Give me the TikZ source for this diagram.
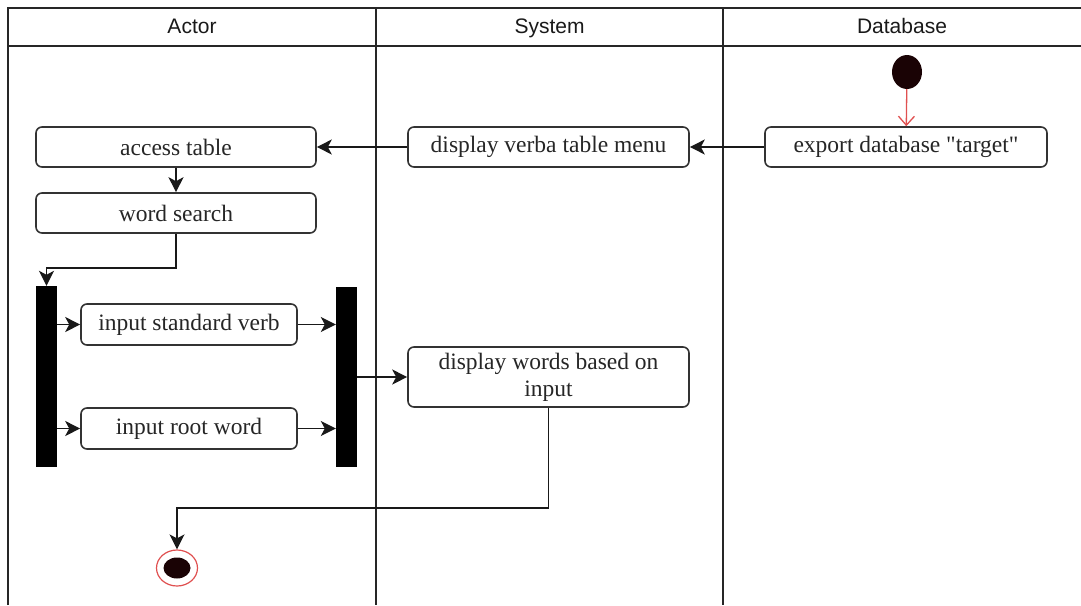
\documentclass[tikz,border=0pt]{standalone}
\usepackage{fontspec}
\setmainfont{Liberation Serif}
\newfontfamily\hdrfont{Liberation Sans}
\usetikzlibrary{arrows.meta,shapes.geometric}
\definecolor{startred}{HTML}{E05050}
\definecolor{darkdot}{HTML}{1A0305}
\newcommand\straightdq{\XeTeXglyph\XeTeXcharglyph"22\relax}
\begin{document}
\begin{tikzpicture}[x=1pt,y=-1pt,
  act/.style={draw=black!80, line width=1.6pt, rounded corners=6pt, fill=white,
    minimum height=40pt, inner sep=0pt, align=center,
    font=\fontsize{23.5}{27}\selectfont, text=black!85},
  bar/.style={fill=black, draw=none, minimum width=21pt, minimum height=181pt, inner sep=0pt},
  flow/.style={line width=1.5pt, black!90, -{Stealth[length=15pt,width=15pt,inset=4pt]}},
  lane/.style={line width=1.8pt, black!85},
  hd/.style={font=\hdrfont\fontsize{21}{24}\selectfont, text=black!90, text height=15pt, text depth=4pt}
]
\useasboundingbox (0,0) rectangle (1081,605);
% swimlanes
\draw[lane] (8,605) -- (8,8) -- (1081,8);
\draw[lane, line width=2.6pt] (8,46) -- (1081,46);
\draw[lane] (376,8) -- (376,605);
\draw[lane] (723,8) -- (723,605);
\node[hd] (hactor) at (192,28) {Actor};
\node[hd] (hsys) at (549.5,28) {System};
\node[hd] (hdb) at (902,28) {Database};
% nodes
\node[ellipse, fill=darkdot, minimum width=30pt, minimum height=34pt, inner sep=0pt] (start) at (907,72) {};
\node[act, minimum width=282pt] (export) at (906,147) {export database \straightdq target\straightdq};
\node[act, minimum width=281pt] (menu) at (548.5,147) {display verba table menu};
\node[act, minimum width=280pt] (access) at (176,147) {access table};
\node[act, minimum width=280pt] (word) at (176,213) {word search};
\node[bar] (fork) at (46.5,376.5) {};
\node[act, minimum width=216pt, minimum height=41pt] (verb) at (189,324.5) {input standard verb};
\node[act, minimum width=216pt, minimum height=41pt] (root) at (189,428.5) {input root word};
\node[bar, minimum height=180pt] (join) at (346.5,377) {};
\node[act, minimum width=281pt, minimum height=60pt] (words) at (548.5,377) {display words based on\\input};
\node[ellipse, draw=startred, line width=1.2pt, fill=white, minimum width=41pt, minimum height=36pt, inner sep=0pt] (finalout) at (177,568) {};
\node[ellipse, fill=darkdot, minimum width=27pt, minimum height=21pt, inner sep=0pt] (finalin) at (177,568) {};
% connectors
\draw[startred, line width=1.3pt, -{Straight Barb[length=9pt,width=16pt]}] (start) -- (export);
\draw[flow] (export.west) -- (menu.east);
\draw[flow] (menu.west) -- (access.east);
\draw[flow] (access.south) -- (word.north);
\draw[flow] (word.south) -- ++(0,34) -| (fork.north);
\draw[flow] (fork.east |- verb.west) -- (verb.west);
\draw[flow] (fork.east |- root.west) -- (root.west);
\draw[flow] (verb.east) -- (verb.east -| join.west);
\draw[flow] (root.east) -- (root.east -| join.west);
\draw[flow] (join.east |- words.west) -- (words.west);
\draw[flow] (words.south) -- ++(0,100) -| (finalout.north);
\end{tikzpicture}
\end{document}
